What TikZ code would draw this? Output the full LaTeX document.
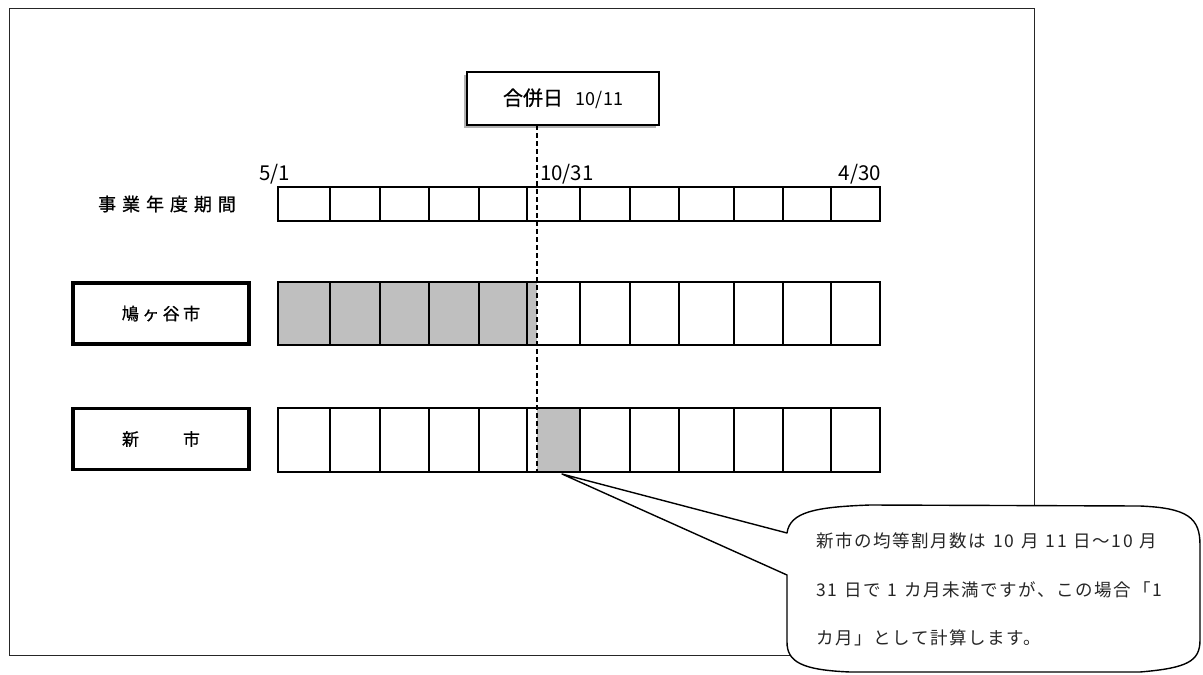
\documentclass[tikz,border=0pt]{standalone}
\usepackage{fontspec}
\setmainfont{Noto Sans CJK JP}
\newfontfamily\jpbold[FakeBold=0.8]{Noto Sans CJK JP}
\newcommand\gapsp{\hspace{7pt}}
\begin{document}
\begin{tikzpicture}[x=1pt,y=-1pt,
  gridline/.style={draw=black, line width=1.3pt},
  labelbox/.style={draw=black, line width=3.5pt, fill=white, minimum width=176pt, minimum height=61pt, inner sep=0pt,
    font=\jpbold\fontsize{17}{17}\selectfont},
  datelabel/.style={inner sep=0pt, font=\fontsize{20.5}{20.5}\selectfont},
  dashline/.style={draw=black, line width=2.2pt, dash pattern=on 5pt off 3pt},
  shade/.style={fill=black!25},
  calltext/.style={anchor=west, inner sep=0pt, text=black!85,
    font=\fontsize{17.5}{17.5}\selectfont\addfontfeature{LetterSpace=9}}
]
\useasboundingbox (0,0) rectangle (1203,675);
\fill[white] (0,0) rectangle (1203,675);
% outer frame
\draw[line width=1pt, black!85] (9,8) rectangle (1034,655);

% merge date box
\fill[black!30] (464,75) rectangle (656,128);
\node[draw=black, fill=white, line width=1.3pt, minimum width=192pt, minimum height=53pt, inner sep=0pt] (merge) at (563,98.5)
  {{\jpbold\fontsize{20}{20}\selectfont 合併日}\hspace{13pt}{\fontsize{18}{18}\selectfont 10/11}};

% row 1: fiscal year
\node[inner sep=0pt, font=\jpbold\fontsize{18}{18}\selectfont\addfontfeature{LetterSpace=33}] (fy) at (167,204) {事業年度期間};
\draw[gridline] (278,187) rectangle (880,221);
\foreach \x in {330,380,429,479,527,580,630,679,734,783,831}
  \draw[gridline] (\x,187) -- (\x,221);
\node[datelabel, anchor=base west] (d1) at (259,180) {5/1};
\node[datelabel, anchor=base west] (d2) at (540,180) {10/31};
\node[datelabel, anchor=base east] (d3) at (881,180) {4/30};

% row 2: Hatogaya
\node[labelbox] (hato) at (161,313.5) {\addfontfeature{LetterSpace=20}鳩ヶ谷市};
\fill[shade] (278,282) rectangle (537,345);
\draw[gridline, line width=1.8pt] (278,282) rectangle (880,345);
\foreach \x in {330,380,429,479,527,580,630,679,734,783,831}
  \draw[gridline] (\x,282) -- (\x,345);

% row 3: new city
\node[labelbox] (shin) at (161,439) {新\hspace{44pt}市};
\fill[shade] (537,408) rectangle (580,472);
\draw[gridline, line width=1.8pt] (278,408) rectangle (880,472);
\foreach \x in {330,380,429,479,527,580,630,679,734,783,831}
  \draw[gridline] (\x,408) -- (\x,472);

% merge-date dashed line
\coordinate (dtop) at (537,125);
\coordinate (dbot) at (537,472);
\draw[dashline] (dtop) -- (dbot);

% callout
\coordinate (tip) at (562,474);
\coordinate (pu) at (787,533);
\coordinate (pl) at (787,575);
\draw[line width=1.4pt, fill=white, line join=round]
  (pu) .. controls (790,512) and (815,507) .. (870,505)
  -- (1140,506) .. controls (1188,508) and (1200,518) .. (1200,545)
  -- (1200,640) .. controls (1200,661) and (1188,668) .. (1140,672)
  -- (850,672) .. controls (802,670) and (787,662) .. (787,642)
  -- (pl) -- (tip) -- cycle;
\node[calltext] (t1) at (816,541) {新市の均等割月数は\gapsp{}10\gapsp{}月\gapsp{}11\gapsp{}日〜10\gapsp{}月};
\node[calltext] (t2) at (816,590) {31\gapsp{}日で\gapsp{}1\gapsp{}カ月未満ですが、この場合「1};
\node[calltext] (t3) at (816,638) {カ月」として計算します。};
\end{tikzpicture}
\end{document}
